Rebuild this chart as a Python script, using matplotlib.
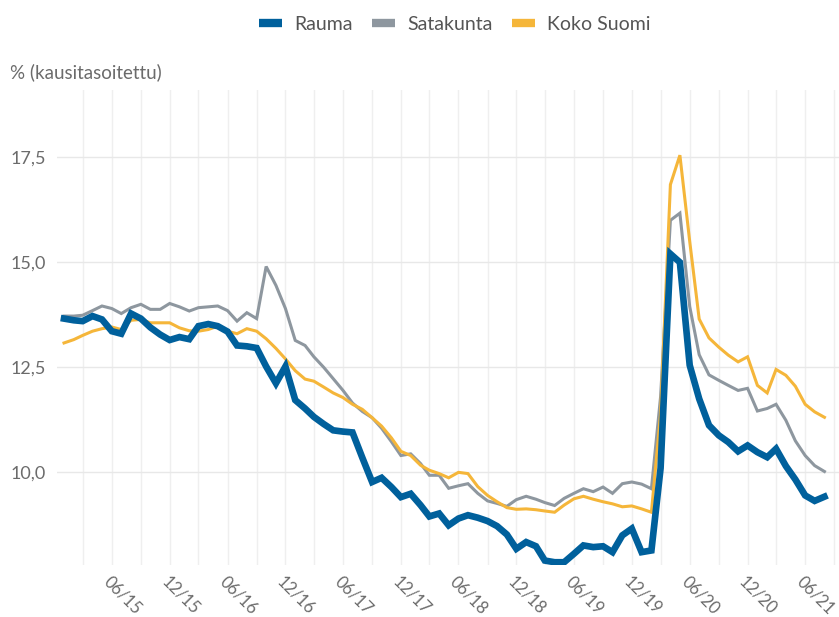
import numpy as np
import pandas as pd
import matplotlib
matplotlib.use("Agg")
import matplotlib.pyplot as plt
import matplotlib.dates as mdates
from matplotlib.lines import Line2D

plt.rcParams['font.family'] = ['Lato', 'DejaVu Sans']

months = pd.date_range('2015-01-01', periods=80, freq='MS')

rauma = [13.66, 13.62, 13.60, 13.72, 13.64, 13.36, 13.30, 13.78, 13.66, 13.45,
         13.28, 13.15, 13.22, 13.17, 13.48, 13.53, 13.48, 13.35, 13.02, 13.00,
         12.96, 12.52, 12.12, 12.52, 11.72, 11.52, 11.32, 11.15, 11.00, 10.97,
         10.95, 10.35, 9.77, 9.87, 9.65, 9.41, 9.49, 9.22, 8.95, 9.02,
         8.74, 8.90, 8.98, 8.92, 8.84, 8.72, 8.52, 8.18, 8.34, 8.24,
         7.90, 7.86, 7.86, 8.06, 8.26, 8.22, 8.24, 8.10, 8.50, 8.66,
         8.10, 8.14, 10.10, 15.20, 15.00, 12.55, 11.75, 11.12, 10.88, 10.72,
         10.50, 10.64, 10.48, 10.36, 10.56, 10.15, 9.83, 9.45, 9.32, 9.42]

satakunta = [13.72, 13.72, 13.74, 13.85, 13.96, 13.90, 13.78, 13.92, 14.00, 13.88,
             13.88, 14.02, 13.94, 13.84, 13.92, 13.94, 13.96, 13.85, 13.60, 13.80,
             13.66, 14.90, 14.45, 13.90, 13.14, 13.02, 12.75, 12.50, 12.23, 11.95,
             11.65, 11.45, 11.30, 11.05, 10.73, 10.40, 10.44, 10.21, 9.93, 9.93,
             9.62, 9.68, 9.73, 9.50, 9.32, 9.26, 9.19, 9.35, 9.43, 9.36,
             9.28, 9.21, 9.38, 9.50, 9.61, 9.54, 9.65, 9.50, 9.73, 9.77,
             9.72, 9.61, 11.80, 16.00, 16.17, 13.95, 12.80, 12.32, 12.19, 12.07,
             11.95, 12.00, 11.46, 11.52, 11.62, 11.24, 10.75, 10.40, 10.16, 10.02]

koko_suomi = [13.08, 13.16, 13.26, 13.36, 13.42, 13.46, 13.40, 13.62, 13.64, 13.56,
              13.56, 13.56, 13.44, 13.37, 13.36, 13.40, 13.48, 13.36, 13.30, 13.42,
              13.36, 13.18, 12.95, 12.70, 12.42, 12.22, 12.17, 12.03, 11.89, 11.78,
              11.62, 11.50, 11.30, 11.10, 10.82, 10.50, 10.40, 10.17, 10.05, 9.97,
              9.87, 10.00, 9.97, 9.66, 9.45, 9.30, 9.16, 9.12, 9.13, 9.11,
              9.08, 9.05, 9.22, 9.37, 9.43, 9.36, 9.30, 9.25, 9.18, 9.20,
              9.13, 9.05, 11.40, 16.85, 17.55, 15.50, 13.65, 13.20, 12.98, 12.79,
              12.63, 12.75, 12.07, 11.89, 12.45, 12.31, 12.05, 11.62, 11.44, 11.31]

series_names = ['Rauma', 'Satakunta', 'Koko Suomi']
colors = ['#00609c', '#8e979f', '#f5b63a']
widths = [4.8, 2.2, 2.2]
y_ticks = [10.0, 12.5, 15.0, 17.5]
y_tick_labels = ['10,0', '12,5', '15,0', '17,5']

fig = plt.figure(figsize=(8.39, 6.17), dpi=100)
ax = fig.add_axes([0.068, 0.084, 0.932, 0.770])

ax.plot(months, satakunta, color=colors[1], lw=widths[1], zorder=2, solid_joinstyle='miter')
ax.plot(months, koko_suomi, color=colors[2], lw=widths[2], zorder=3, solid_joinstyle='miter')
ax.plot(months, rauma, color=colors[0], lw=widths[0], zorder=4, solid_joinstyle='miter')

ax.set_ylim(7.79, 19.1)
ax.set_xlim(pd.Timestamp('2014-12-10'), pd.Timestamp('2021-09-16'))

ax.set_yticks(y_ticks)
ax.set_yticklabels(y_tick_labels)

ax.xaxis.set_major_locator(mdates.MonthLocator(bymonth=[6, 12]))
ax.xaxis.set_major_formatter(mdates.DateFormatter('%m/%y'))
ax.xaxis.set_minor_locator(mdates.MonthLocator(bymonth=[3, 9]))

ax.grid(True, which='major', axis='y', color='#e8e8e8', lw=1.0)
ax.grid(True, which='both', axis='x', color='#efefef', lw=1.0)
ax.set_axisbelow(True)

for s in ax.spines.values():
    s.set_visible(False)

ax.tick_params(axis='both', which='both', length=0)
ax.tick_params(axis='y', labelsize=13, labelcolor='#6b6b6b', pad=8)
ax.tick_params(axis='x', labelsize=12, labelcolor='#6b6b6b', pad=6)
for lab in ax.get_xticklabels():
    lab.set_rotation(-45)
    lab.set_rotation_mode('anchor')
    lab.set_ha('left')
    lab.set_va('top')

fig.text(0.012, 0.883, '% (kausitasoitettu)', ha='left', va='center',
         fontsize=13.5, color='#6b6b6b')

handles = [Line2D([0], [0], color=c, lw=6, solid_capstyle='butt') for c in colors]
fig.legend(handles, series_names, loc='center', bbox_to_anchor=(0.542, 0.961),
           ncol=3, frameon=False, fontsize=14, handlelength=1.2,
           handletextpad=0.6, columnspacing=1.0, labelcolor='#555555')

fig.savefig('out.png', dpi=100)
